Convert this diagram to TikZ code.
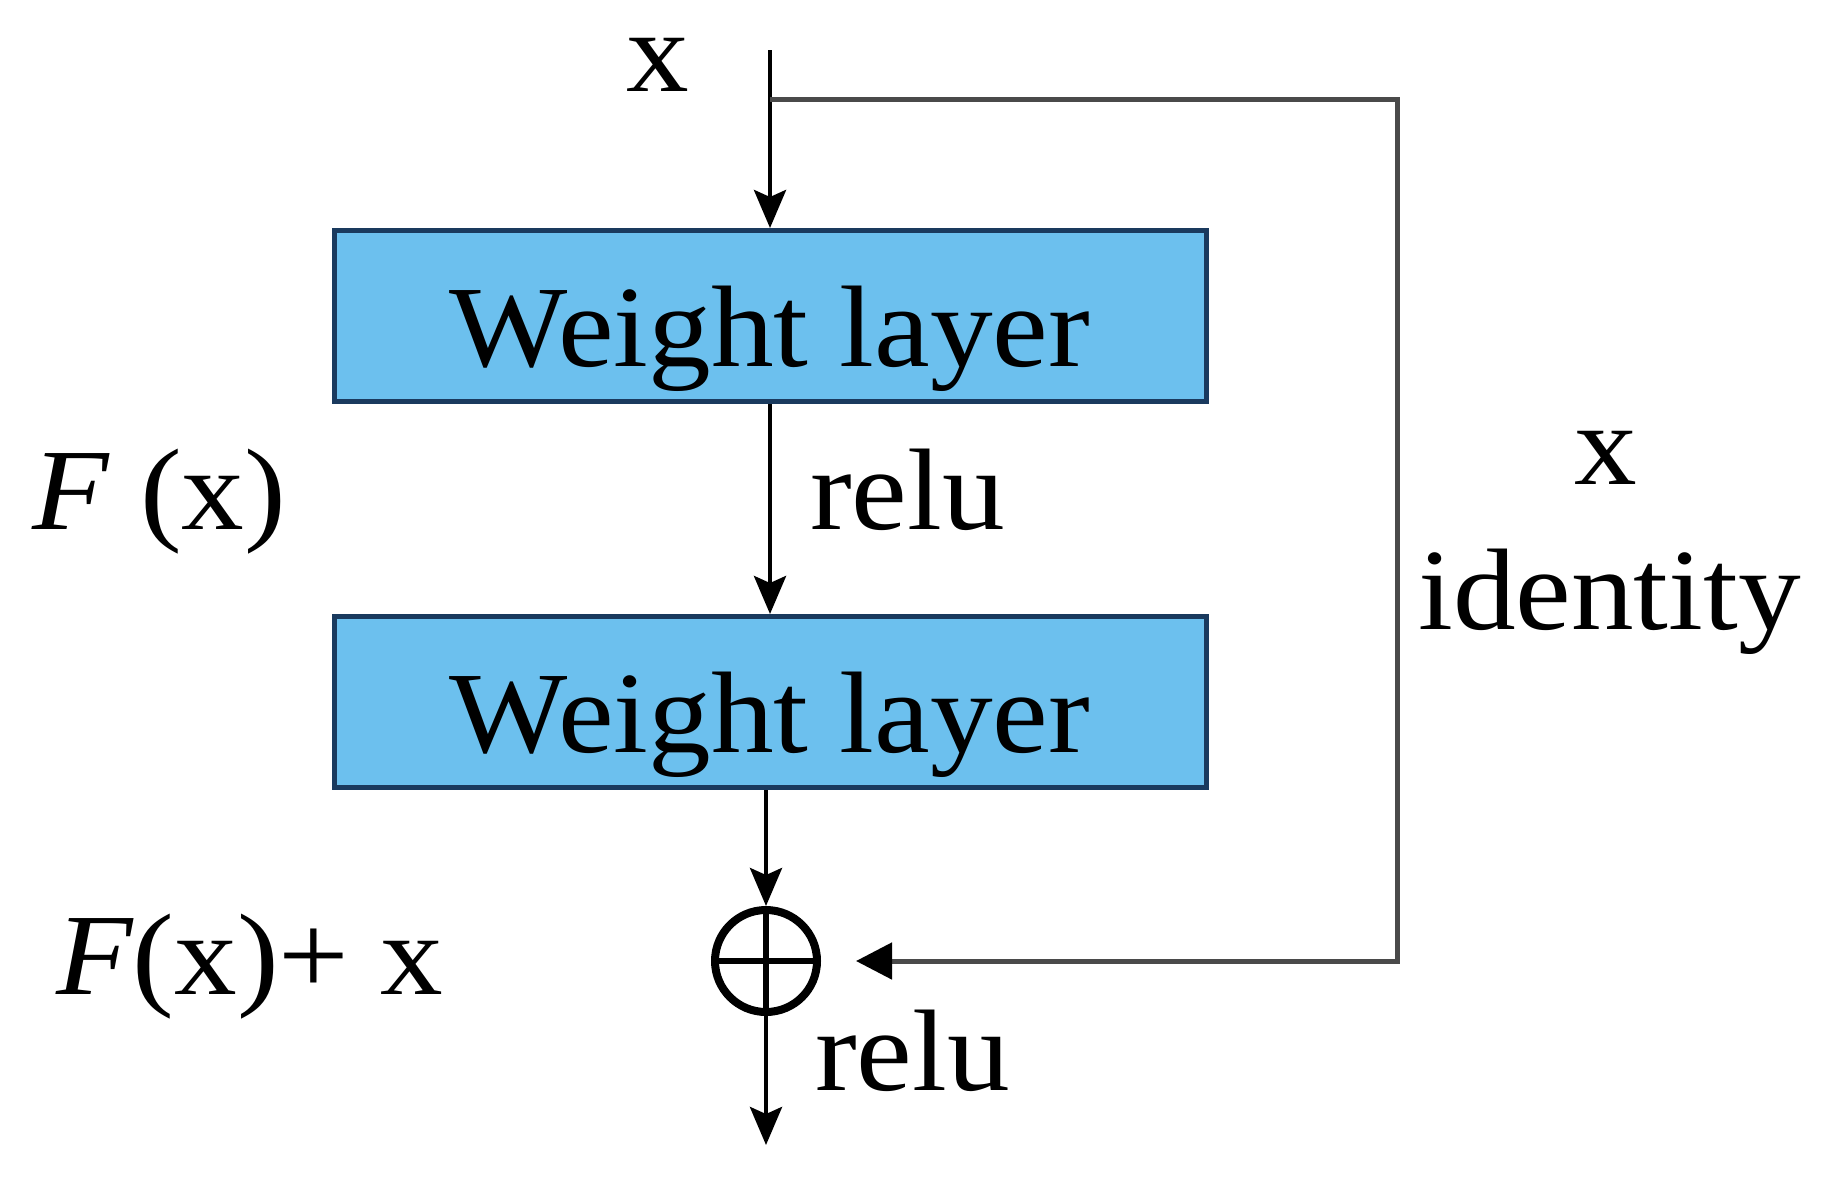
\documentclass[tikz,border=0pt]{standalone}
\usepackage{fontspec}
\setmainfont[FakeStretch=1.08]{Liberation Serif}
\usetikzlibrary{arrows.meta,calc}
\definecolor{azulCapa}{HTML}{6CC0EE}
\definecolor{bordeCapa}{HTML}{1A3A5E}
\definecolor{grisAtajo}{HTML}{4A4A4A}

\begin{document}
\begin{tikzpicture}[x=1pt,y=-1pt,>={Stealth[length=38pt,width=32pt,inset=7pt]},
  capa/.style={draw=bordeCapa,fill=azulCapa,line width=5pt,inner sep=0pt,
    minimum width=872pt,minimum height=171pt,text height=136pt,text depth=35pt},
  etiq/.style={anchor=base west,inner sep=0pt,font=\fontsize{116}{138}\selectfont}]
  \useasboundingbox (0,0) rectangle (1825,1176);
  \node[capa,font=\fontsize{116}{138}\selectfont] (capaA) at (770,316) {Weight layer};
  \node[capa,font=\fontsize{116}{138}\selectfont] (capaB) at (770,702) {Weight layer};
  \node[circle,draw,line width=8pt,minimum size=102pt,inner sep=0pt,
    path picture={\draw[line width=6pt]
      (path picture bounding box.north) -- (path picture bounding box.south)
      (path picture bounding box.west) -- (path picture bounding box.east);}]
    (suma) at (766,961) {};
  \coordinate (entrada) at (770,50);
  \coordinate (rama) at (770,99);
  \coordinate (esquina) at (1397,99);
  \coordinate (salida) at (766,1145);
  % camino principal
  \draw[line width=4.5pt,->] (entrada) -- (capaA.north);
  \draw[line width=4.5pt,->] (capaA.south) -- (capaB.north);
  \draw[line width=4.5pt,->] (capaB.south -| suma) -- (suma.north);
  \draw[line width=4.5pt,->] (suma.south) -- (salida);
  % atajo identidad
  \draw[grisAtajo,line width=5pt,shorten >=35pt,
    -{Stealth[length=36pt,width=36pt,inset=0pt,color=black]}]
    (rama) -- (esquina) |- (suma.east);
  % textos
  \node[etiq,anchor=base] (xin) at (658,91) {x};
  \node[etiq] (relu1) at (810,529) {relu};
  \node[etiq] (fx) at (32,529) {\itshape F\upshape{} (x)};
  \node[etiq,anchor=base] (xder) at (1606,484) {x};
  \node[etiq] (ident) at (1418,629) {identity};
  \node[etiq] (fxx) at (56,994) {\itshape F\upshape(x)+ x};
  \node[etiq] (relu2) at (815,1090) {relu};
\end{tikzpicture}
\end{document}
